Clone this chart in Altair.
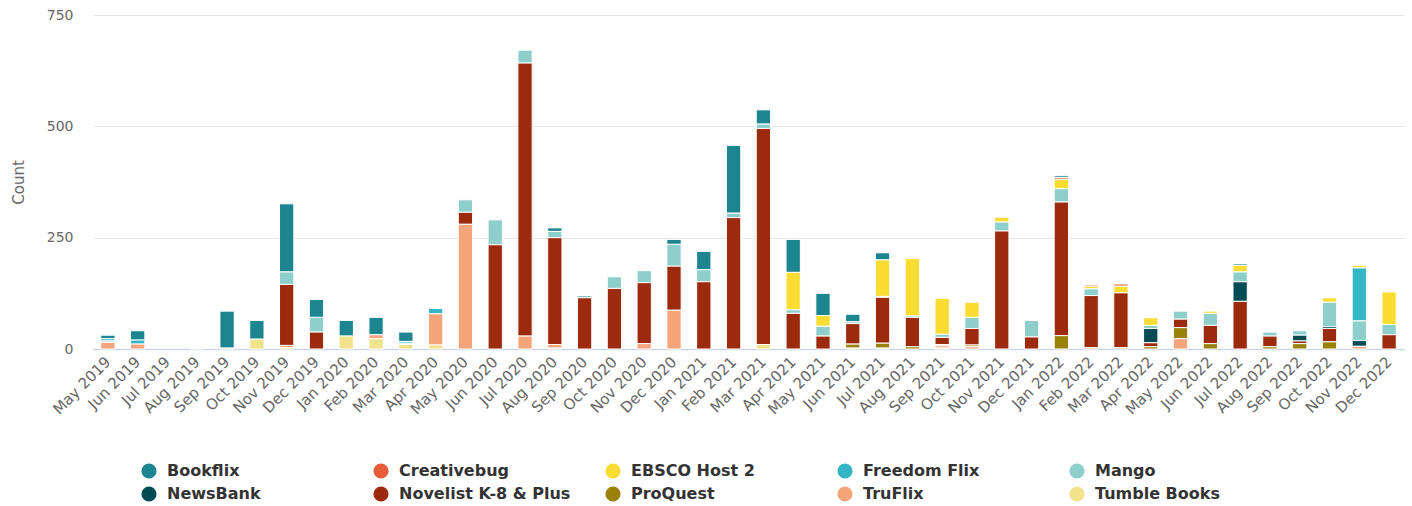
import altair as alt
import pandas as pd

months = [
    "May 2019", "Jun 2019", "Jul 2019", "Aug 2019", "Sep 2019", "Oct 2019", "Nov 2019", "Dec 2019",
    "Jan 2020", "Feb 2020", "Mar 2020", "Apr 2020", "May 2020", "Jun 2020", "Jul 2020", "Aug 2020",
    "Sep 2020", "Oct 2020", "Nov 2020", "Dec 2020", "Jan 2021", "Feb 2021", "Mar 2021", "Apr 2021",
    "May 2021", "Jun 2021", "Jul 2021", "Aug 2021", "Sep 2021", "Oct 2021", "Nov 2021", "Dec 2021",
    "Jan 2022", "Feb 2022", "Mar 2022", "Apr 2022", "May 2022", "Jun 2022", "Jul 2022", "Aug 2022",
    "Sep 2022", "Oct 2022", "Nov 2022", "Dec 2022",
]

series = ["Bookflix", "Creativebug", "EBSCO Host 2", "Freedom Flix", "Mango",
          "NewsBank", "Novelist K-8 & Plus", "ProQuest", "TruFlix", "Tumble Books"]
colors = ["#1d858f", "#e85c38", "#fbdc32", "#35b6c6", "#8fcfcb",
          "#034c54", "#9b2b0c", "#9a8208", "#f6a57b", "#f1e28b"]

bookflix = [8, 21, 0, 0, 83, 42, 153, 40, 35, 39,
            21, 0, 0, 0, 0, 8, 4, 0, 0, 11,
            41, 152, 32, 74, 50, 17, 16, 0, 0, 0,
            0, 0, 4, 0, 0, 0, 0, 0, 4, 0,
            0, 0, 0, 0]
creativebug = [0, 0, 0, 0, 0, 0, 0, 0, 0, 0,
               0, 0, 0, 0, 0, 0, 0, 0, 0, 0,
               0, 0, 0, 0, 0, 0, 0, 0, 0, 0,
               0, 0, 4, 3, 5, 0, 0, 0, 0, 0,
               0, 0, 0, 0]
ebsco = [0, 0, 0, 0, 0, 0, 0, 0, 0, 0,
         0, 0, 0, 0, 0, 0, 0, 0, 0, 0,
         0, 0, 0, 84, 24, 0, 82, 129, 81, 34,
         11, 0, 21, 6, 15, 17, 0, 5, 15, 0,
         0, 10, 6, 73]
freedom_flix = [5, 9, 0, 0, 0, 0, 0, 0, 0, 0,
                4, 12, 0, 0, 0, 0, 0, 0, 0, 0,
                0, 0, 0, 0, 0, 0, 0, 0, 0, 0,
                0, 0, 0, 0, 0, 0, 0, 0, 0, 0,
                0, 0, 119, 0]
mango = [3, 0, 0, 0, 0, 0, 28, 33, 0, 0,
         3, 0, 28, 56, 29, 14, 0, 26, 27, 49,
         27, 10, 10, 8, 22, 4, 2, 3, 7, 25,
         20, 37, 30, 15, 0, 7, 18, 27, 22, 9,
         10, 55, 44, 23]
newsbank = [0, 0, 0, 0, 0, 0, 0, 0, 0, 0,
            0, 0, 0, 0, 0, 0, 0, 0, 0, 0,
            0, 0, 0, 0, 0, 0, 0, 0, 0, 0,
            0, 0, 0, 0, 0, 32, 0, 0, 44, 0,
            13, 4, 13, 0]
novelist = [0, 0, 0, 0, 0, 0, 137, 38, 0, 0,
            0, 0, 27, 234, 613, 240, 115, 136, 137, 99,
            151, 295, 485, 80, 29, 46, 103, 66, 16, 37,
            265, 27, 300, 117, 123, 9, 19, 41, 107, 24,
            6, 30, 0, 32]
proquest = [0, 0, 0, 0, 0, 0, 0, 0, 0, 0,
            0, 0, 0, 0, 0, 0, 0, 0, 0, 0,
            0, 0, 0, 0, 0, 9, 11, 5, 3, 4,
            0, 0, 30, 0, 0, 5, 25, 12, 0, 5,
            12, 16, 0, 0]
truflix = [15, 11, 0, 0, 0, 0, 5, 0, 0, 9,
           0, 70, 280, 0, 29, 8, 0, 0, 12, 87,
           0, 0, 0, 0, 0, 0, 0, 0, 5, 5,
           0, 0, 0, 3, 3, 0, 23, 0, 0, 0,
           0, 0, 6, 0]
tumble_books = [0, 0, 0, 1, 2, 22, 3, 0, 29, 23,
                10, 9, 0, 0, 0, 2, 0, 0, 0, 0,
                0, 0, 10, 0, 0, 2, 2, 0, 2, 0,
                0, 0, 0, 0, 0, 0, 0, 0, 0, 0,
                0, 0, 0, 0]

values = [bookflix, creativebug, ebsco, freedom_flix, mango,
          newsbank, novelist, proquest, truflix, tumble_books]

# first series sits on top of the stack, last at the bottom
rows = []
n = len(series)
for i, (name, vals) in enumerate(zip(series, values)):
    for m, v in zip(months, vals):
        if v > 0:
            rows.append({"month": m, "series": name, "count": v, "stack": n - i})
df = pd.DataFrame(rows)

chart = alt.Chart(df).mark_bar(stroke="white", strokeWidth=1).encode(
    x=alt.X(
        "month:N",
        sort=months,
        scale=alt.Scale(domain=months, paddingInner=0.52, paddingOuter=0.26),
        axis=alt.Axis(
            title=None, labelAngle=-45, labelAlign="right", labelBaseline="middle",
            ticks=False, domainColor="#ccd6eb", domainWidth=1.5, labelColor="#666666",
            labelFontSize=15, labelFont="DejaVu Sans", labelPadding=10, labelOverlap=False,
        ),
    ),
    y=alt.Y(
        "count:Q",
        stack="zero",
        scale=alt.Scale(domain=[0, 750], nice=False),
        axis=alt.Axis(
            values=[0, 250, 500, 750], title="Count", domain=False, ticks=False,
            gridColor="#e6e6e6", labelColor="#666666", labelFontSize=14,
            labelFont="DejaVu Sans", labelPadding=20, titleFont="DejaVu Sans",
            titleFontSize=15, titleFontWeight="normal", titleColor="#666666",
            titleX=-75, titleY=167, titleBaseline="middle", titleAlign="center",
        ),
    ),
    color=alt.Color(
        "series:N",
        scale=alt.Scale(domain=series, range=colors),
        legend=alt.Legend(
            title=None, orient="none", legendX=48, legendY=448, columns=5,
            direction="horizontal", gridAlign="all", columnPadding=34, rowPadding=7,
            symbolType="circle", symbolSize=230, symbolStrokeWidth=0, labelOffset=10,
            labelFontSize=16, labelFontWeight="bold", labelColor="#333333",
            labelFont="DejaVu Sans", labelLimit=300,
        ),
    ),
    order=alt.Order("stack:Q", sort="ascending"),
).properties(
    width=1311,
    height=334,
    autosize=alt.AutoSizeParams(type="none"),
    padding={"left": 93, "top": 15, "right": 8, "bottom": 157},
).configure_view(stroke="transparent")

chart.save("out.html", embed_options={"renderer": "svg", "actions": False})
